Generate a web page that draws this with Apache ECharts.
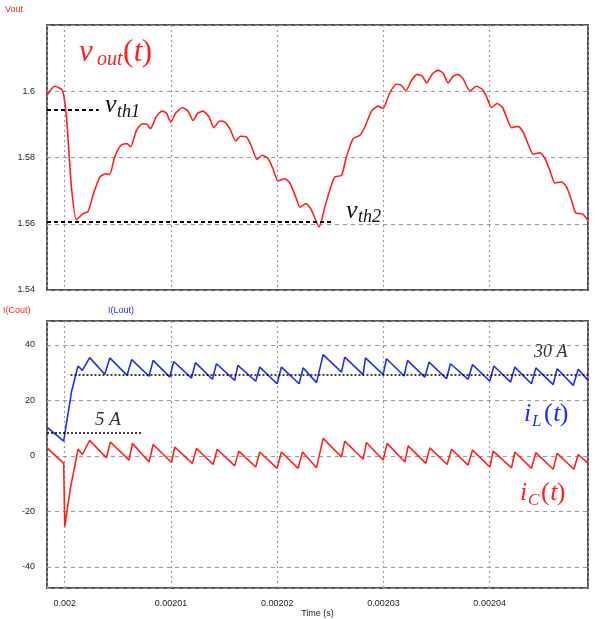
<!DOCTYPE html>
<html>
<head>
<meta charset="utf-8">
<script src="https://cdn.jsdelivr.net/npm/echarts@6/dist/echarts.min.js"></script>
<style>
html, body { margin: 0; padding: 0; background: #fff; }
#main { width: 596px; height: 619px; }
</style>
</head>
<body>
<div id="main"></div>
<script>
// time in microseconds, axis labels show seconds
var tMin = 1998.33, tMax = 2049.26;

var vTime = [1998.33, 1999.06, 1999.78, 2000.16, 2000.63, 2001.1, 2001.7, 2002.2, 2002.7, 2003.3,
    2003.86, 2004.24, 2004.7, 2005.3, 2005.87, 2006.2, 2006.75, 2007.3, 2007.75, 2008.07,
    2008.63, 2009.16, 2009.57, 2009.98, 2010.45, 2011.08, 2011.6, 2012.08, 2012.5, 2013.02,
    2013.6, 2014.03, 2014.6, 2015.07, 2015.54, 2016.1, 2016.54, 2017.1, 2017.58, 2018.1,
    2018.6, 2019.14, 2019.6, 2020.08, 2020.7, 2021.19, 2021.8, 2022.13, 2022.7, 2023.23,
    2023.95, 2024.48, 2024.95, 2025.42, 2026.05, 2026.52, 2027.15, 2027.78, 2028.25, 2028.88,
    2029.5, 2029.97, 2030.6, 2031.23, 2031.7, 2032.1, 2032.65, 2033.17, 2033.68, 2034.06,
    2034.62, 2035.15, 2035.62, 2036.09, 2036.56, 2037.03, 2037.5, 2038.14, 2038.77, 2039.33,
    2039.71, 2040.18, 2040.71, 2041.21, 2041.59, 2042.06, 2042.68, 2043.15, 2043.63, 2044.1,
    2044.73, 2045.2, 2045.67, 2046.14, 2046.77, 2047.24, 2047.71, 2048.12, 2048.74, 2049.26];
var vOut = [1.5988, 1.6015, 1.6003, 1.5922, 1.5711, 1.5612, 1.563, 1.5637, 1.569, 1.5741,
    1.5751, 1.5749, 1.5802, 1.5837, 1.5842, 1.5832, 1.5882, 1.5902, 1.59, 1.5887,
    1.5924, 1.594, 1.5934, 1.5907, 1.5934, 1.5951, 1.594, 1.5912, 1.5933, 1.594,
    1.5922, 1.589, 1.591, 1.5907, 1.5887, 1.585, 1.5864, 1.5862, 1.5834, 1.5794,
    1.5807, 1.5797, 1.5766, 1.5729, 1.5736, 1.5723, 1.5676, 1.565, 1.5661, 1.5641,
    1.559, 1.565, 1.5701, 1.5741, 1.5746, 1.5802, 1.5857, 1.5867, 1.5892, 1.594,
    1.5955, 1.5948, 1.5995, 1.6021, 1.6018, 1.6001, 1.6033, 1.6051, 1.6045, 1.6025,
    1.6053, 1.6063, 1.6055, 1.6025, 1.6045, 1.6051, 1.6038, 1.6001, 1.6015, 1.6005,
    1.5983, 1.5951, 1.5963, 1.5951, 1.5922, 1.589, 1.5894, 1.5877, 1.584, 1.581,
    1.5814, 1.5797, 1.5761, 1.5723, 1.5726, 1.5711, 1.5671, 1.5632, 1.563, 1.561];

var tL = [1998.33, 1999.9, 2000.63, 2001.25, 2001.66, 2002.35, 2003.77, 2004.24, 2005.87, 2006.3,
    2007.94, 2008.32, 2009.89, 2010.26, 2011.93, 2012.3, 2013.9, 2014.28, 2016.0, 2016.3,
    2017.98, 2018.36, 2019.99, 2020.4, 2022.06, 2022.44, 2023.7, 2024.33, 2026.05, 2026.36,
    2028.09, 2028.31, 2029.97, 2030.29, 2031.95, 2032.27, 2033.9, 2034.3, 2035.94, 2036.31,
    2037.97, 2038.39, 2040.02, 2040.4, 2041.97, 2042.37, 2043.94, 2044.35, 2045.98, 2046.36,
    2047.87, 2048.34, 2049.26];
var iL = [10.4, 5.3, 23, 32.4, 30.8, 35.4, 29.4, 35.3, 29, 34.7,
    28.7, 34.4, 28.4, 34, 28, 33.6, 27.6, 33.2, 27.2, 32.6,
    26.9, 32, 26, 32, 26, 31.7, 26.4, 36.5, 30.2, 35.6,
    29.3, 35.3, 29.3, 35, 28.8, 34.4, 28.4, 33.8, 27.8, 33.2,
    27.6, 32.9, 26.9, 32.4, 26.6, 32, 26, 31.7, 25.7, 31.4,
    25.4, 31.2, 27.2];

var tC = [1998.33, 1999.9, 2000.0, 2000.53, 2001.25, 2001.66, 2002.35, 2003.92, 2004.3, 2006.05,
    2006.37, 2007.94, 2008.32, 2010.05, 2010.36, 2012.02, 2012.4, 2013.97, 2014.35, 2016.0,
    2016.38, 2017.98, 2018.36, 2019.99, 2020.4, 2021.97, 2022.38, 2023.7, 2024.33, 2026.05,
    2026.36, 2028.09, 2028.4, 2029.97, 2030.35, 2032.02, 2032.33, 2033.99, 2034.37, 2036.0,
    2036.41, 2037.97, 2038.39, 2040.02, 2040.33, 2042.06, 2042.37, 2043.94, 2044.35, 2045.98,
    2046.36, 2047.93, 2048.34, 2049.26];
var iC = [2.9, -2.7, -25.5, -11.7, 2.4, 0.5, 5.6, -0.7, 5.0, -1.5,
    4.5, -2.2, 4.1, -2.4, 3.2, -2.7, 2.7, -3.1, 2.4, -3.6,
    1.7, -4, 1.4, -4.5, 1.4, -4.5, 1.4, -4.3, 6.3, -0.4,
    5.3, -1.2, 4.8, -1.5, 4.5, -2.2, 3.6, -2.7, 2.9, -3.1,
    2.4, -3.3, 2.1, -4, 1.7, -4.3, 1.4, -4.5, 1.2, -4.8,
    0.9, -4.8, 0.5, -2.7];

// threshold lines [value, tStart, tEnd]
var vth1 = [1.5945, tMin, 2003.2];
var vth2 = [1.5607, tMin, 2025.2];
var ref5 = [8.3, tMin, 2007.2];
var ref30 = [29.3, 2000.54, tMax];

function pairs(xs, ys) {
    return xs.map(function (x, i) { return [x, ys[i]]; });
}

function seg(r, style) {
    return [{ coord: [r[1], r[0]], lineStyle: style }, { coord: [r[2], r[0]] }];
}

var red = '#ff1f1f', blue = '#1f2fef';
var thickDash = { color: '#000', width: 2, type: [4, 3] };
var dotted = { color: '#000', width: 1.5, type: [2, 2] };

var serif = '"Liberation Serif", "Times New Roman", serif';
function txt(x, y, s, size, color, italic) {
    return {
        type: 'text', left: x, top: y, silent: true,
        style: {
            text: s, fill: color,
            font: (italic === false ? '' : 'italic ') + size + 'px ' + serif
        }
    };
}
function small(x, y, s, color) {
    return {
        type: 'text', left: x, top: y, silent: true,
        style: { text: s, fill: color, font: '9px "Liberation Sans", Arial, sans-serif' }
    };
}
// "(t)" with upright parentheses and italic t
function paren(x, y, size, color) {
    var w = size * 0.333;
    return [
        txt(x, y, '(', size, color, false),
        txt(x + w + 0.5, y, 't', size, color),
        txt(x + w + size * 0.27, y, ')', size, color, false)
    ];
}

var xLabelFmt = function (v) { return String(parseFloat((v / 1e6).toFixed(5))); };
var gridLineH = { lineStyle: { color: '#9a9a9a', type: [4, 4], width: 1 } };
var gridLineV = { lineStyle: { color: '#9a9a9a', type: [2, 3], width: 1.2 } };
var axisText = { color: '#222', fontSize: 9, fontFamily: 'Liberation Sans', margin: 12,
    showMinLabel: false, showMaxLabel: false };

var chart = echarts.init(document.getElementById('main'));
chart.setOption({
    animation: false,
    backgroundColor: '#fff',
    grid: [
        { left: 47, top: 25, width: 541, height: 265, show: true, borderColor: '#555', borderWidth: 2 },
        { left: 47, top: 321, width: 541, height: 267, show: true, borderColor: '#555', borderWidth: 2 }
    ],
    xAxis: [
        { type: 'value', gridIndex: 0, min: tMin, max: tMax,
          axisLine: { show: false }, axisTick: { show: false }, axisLabel: { show: false },
          splitLine: gridLineV },
        { type: 'value', gridIndex: 1, min: tMin, max: tMax,
          axisLine: { show: false }, axisTick: { show: false },
          axisLabel: Object.assign({ formatter: xLabelFmt }, axisText, { margin: 11 }),
          splitLine: gridLineV,
          name: 'Time (s)', nameLocation: 'middle', nameGap: 20,
          nameTextStyle: { color: '#222', fontSize: 9, fontFamily: 'Liberation Sans' } }
    ],
    yAxis: [
        { type: 'value', gridIndex: 0, min: 1.54, max: 1.62, interval: 0.02,
          axisLine: { show: false }, axisTick: { show: false },
          axisLabel: Object.assign({}, axisText, { showMinLabel: true }),
          splitLine: gridLineH },
        { type: 'value', gridIndex: 1, min: -47.6, max: 48.6, splitNumber: 5,
          axisLine: { show: false }, axisTick: { show: false },
          axisLabel: axisText, splitLine: gridLineH }
    ],
    series: [
        { type: 'line', name: 'Vout', xAxisIndex: 0, yAxisIndex: 0, data: pairs(vTime, vOut),
          showSymbol: false, smooth: 0.2, lineStyle: { color: red, width: 1.6 }, itemStyle: { color: red },
          markLine: { silent: true, symbol: 'none', label: { show: false },
              data: [seg(vth1, thickDash), seg(vth2, thickDash)] } },
        { type: 'line', name: 'I(Lout)', xAxisIndex: 1, yAxisIndex: 1, data: pairs(tL, iL),
          showSymbol: false, lineStyle: { color: blue, width: 1.6 }, itemStyle: { color: blue },
          markLine: { silent: true, symbol: 'none', label: { show: false },
              data: [seg(ref5, dotted), seg(ref30, dotted)] } },
        { type: 'line', name: 'I(Cout)', xAxisIndex: 1, yAxisIndex: 1, data: pairs(tC, iC),
          showSymbol: false, lineStyle: { color: red, width: 1.6 }, itemStyle: { color: red } }
    ],
    graphic: [
        small(5, 5, 'Vout', red),
        small(3, 306, 'I(Cout)', red),
        small(108, 306, 'I(Lout)', blue),
        // v_out(t)
        txt(79, 37, 'v', 31, red),
        txt(97, 50, 'out', 20, red)
    ].concat(paren(123, 37, 31, red), [
        // v_th1
        txt(105, 92, 'v', 26, '#111'),
        txt(117, 103, 'th1', 18, '#111'),
        // v_th2
        txt(346, 198, 'v', 26, '#111'),
        txt(358, 208, 'th2', 18, '#111'),
        txt(95, 410, '5 A', 19, '#333'),
        txt(534, 343, '30 A', 18, '#333'),
        // i_L(t)
        txt(524, 401, 'i', 26, blue),
        txt(532, 413, 'L', 17, blue)
    ], paren(544, 401, 26, blue), [
        // i_C(t)
        txt(520, 480, 'i', 26, red),
        txt(528, 492, 'C', 17, red)
    ], paren(541, 480, 26, red))
});
</script>
</body>
</html>
